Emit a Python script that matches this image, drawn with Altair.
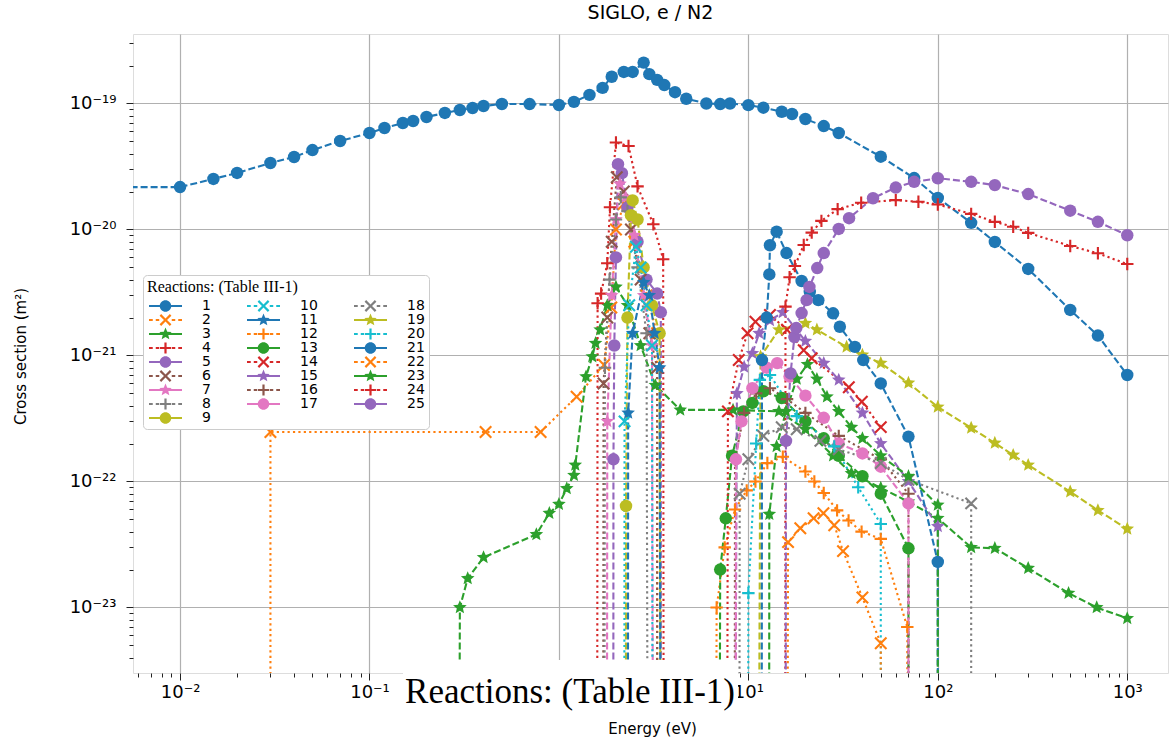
import math
import altair as alt
import pandas as pd

# ---------------- data (energy in eV, cross section in m^2; 0 = vanishing) -------------
E1 = [0.001, 0.01, 0.015, 0.02, 0.03, 0.04, 0.05, 0.07, 0.1, 0.12, 0.15, 0.17, 0.2, 0.25, 0.3, 0.35, 0.4, 0.5, 0.7,
      1.0, 1.2, 1.45, 1.7, 1.9, 2.2, 2.45, 2.8, 3.0, 3.3, 3.6, 4.1, 4.7, 6.0, 7.1, 8.0,
      10, 12, 15, 17, 20, 25, 30, 50, 75, 100, 150, 200, 300, 500, 700, 1000]
S1 = [2.17e-20, 2.17e-20, 2.52e-20, 2.81e-20, 3.37e-20, 3.76e-20, 4.27e-20, 5.04e-20, 5.83e-20, 6.39e-20, 7.0e-20,
      7.26e-20, 7.81e-20, 8.41e-20, 8.88e-20, 9.21e-20, 9.55e-20, 9.91e-20, 9.9e-20,
      9.73e-20, 1.03e-19, 1.17e-19, 1.33e-19, 1.63e-19, 1.78e-19, 1.78e-19, 2.11e-19, 1.71e-19, 1.54e-19, 1.40e-19,
      1.23e-19, 1.09e-19, 1.0e-19, 9.9e-20, 1.0e-19,
      9.7e-20, 9.26e-20, 8.6e-20, 8.25e-20, 7.53e-20, 6.62e-20, 5.83e-20, 3.78e-20, 2.56e-20, 1.78e-20, 1.13e-20,
      7.96e-21, 4.86e-21, 2.3e-21, 1.44e-21, 7.0e-22]
E2 = [0.03, 0.03, 0.41, 0.8, 1.24, 1.73, 1.89, 2.0, 2.2, 2.5, 2.9, 3.3, 3.3]
S2 = [0, 2.47e-22, 2.47e-22, 2.47e-22, 4.7e-22, 8.4e-22, 2.4e-21, 1.0e-20, 1.6e-20, 8e-21, 3e-21, 1.5e-21, 0]
E3 = [0.29, 0.3, 0.33, 0.4, 0.76, 0.89, 1.0, 1.1, 1.2, 1.22, 1.39, 1.5, 1.56, 1.65, 1.8, 2.0, 2.3, 2.7, 3.23, 4.37,
      8.3, 14.5, 20, 28, 35, 50, 70, 100, 150, 200, 300, 490, 690, 1000]
S3 = [0, 1.0e-23, 1.7e-23, 2.5e-23, 3.8e-23, 5.6e-23, 6.6e-23, 8.8e-23, 1.12e-22, 1.35e-22, 6.8e-22, 9.8e-22, 1.25e-21,
      1.6e-21, 2.5e-21, 3.5e-21, 2.5e-21, 1.2e-21, 5.8e-22, 3.7e-22, 3.7e-22, 3.6e-22, 2.6e-22, 1.6e-22, 1.16e-22,
      8.9e-23, 6.9e-23, 5.1e-23, 3.0e-23, 2.95e-23, 2.05e-23, 1.3e-23, 1.0e-23, 8.2e-24]
E4 = [1.58, 1.6, 1.67, 1.8, 1.86, 2.0, 2.33, 2.6, 3.15, 3.55, 3.6]
S4 = [0, 2.6e-21, 3.1e-21, 5.4e-21, 1.5e-20, 4.9e-20, 4.6e-20, 2.2e-20, 1.1e-20, 5.8e-21, 0]
E5 = [1.93, 1.94, 1.96, 2.0, 2.05, 2.15, 2.3, 2.6, 2.9, 3.3, 3.45, 3.45]
S5 = [0, 1.5e-22, 1.2e-21, 6e-21, 3.3e-20, 2.8e-20, 1.5e-20, 8e-21, 4e-21, 3.1e-21, 2.2e-21, 0]
E6 = [1.7, 1.72, 1.8, 1.9, 2.02, 2.2, 2.4, 2.7, 3.0, 3.3, 3.3]
S6 = [0, 6e-22, 2e-21, 8e-21, 2.6e-20, 2.0e-20, 1.0e-20, 4e-21, 1.5e-21, 8e-22, 0]
E7 = [1.78, 1.8, 1.9, 2.0, 2.1, 2.25, 2.5, 2.8, 3.1, 3.2]
S7 = [0, 3e-22, 3e-21, 1.2e-20, 2.3e-20, 1.8e-20, 9e-21, 3e-21, 1.2e-21, 0]
E8 = [1.72, 1.75, 1.85, 2.0, 2.12, 2.3, 2.6, 2.9, 3.0]
S8 = [0, 8e-22, 4e-21, 1.2e-20, 1.8e-20, 1.4e-20, 5e-21, 1.5e-21, 0]
E9 = [2.25, 2.26, 2.3, 2.4, 2.45, 2.6, 2.8, 3.1, 3.4, 3.5]
S9 = [0, 6.4e-23, 2e-21, 1.3e-20, 1.7e-20, 1.2e-20, 5e-21, 2.5e-21, 1.5e-21, 0]
E10 = [2.2, 2.22, 2.35, 2.55, 2.7, 2.9, 3.1, 3.15]
S10 = [0, 3e-22, 2.5e-21, 7.3e-21, 5e-21, 2.5e-21, 1.2e-21, 0]
E11 = [2.3, 2.32, 2.45, 2.8, 3.0, 3.2, 3.4, 3.5]
S11 = [0, 3.5e-22, 1.5e-21, 3.8e-21, 3e-21, 1.5e-21, 8e-22, 0]
E12 = [6.6, 6.8, 7.5, 8.5, 9.8, 10.9, 12.6, 15.2, 20, 22.3, 25, 29.4, 33.8, 39.6, 50, 69, 69]
S12 = [0, 1.0e-23, 3.0e-23, 6.0e-23, 8.5e-23, 1.0e-22, 1.4e-22, 1.57e-22, 1.2e-22, 1.0e-22, 8.1e-23, 5.9e-23,
       4.9e-23, 4.0e-23, 3.5e-23, 7.0e-24, 0]
E13 = [6.9, 7.1, 7.6, 8.2, 9.4, 10.5, 12, 15, 20, 25, 30, 40, 50, 70, 70]
S13 = [0, 2.0e-23, 5.1e-23, 1.6e-22, 3.6e-22, 4.2e-22, 5.2e-22, 4.6e-22, 3.0e-22, 2.2e-22, 1.6e-22, 1.1e-22, 8e-23,
       2.95e-23, 0]
E14 = [7.6, 7.8, 8.9, 9.9, 10.9, 13, 16, 19.6, 21.6, 33.9, 39.7, 50]
S14 = [0, 3.6e-22, 9.2e-22, 1.5e-21, 1.85e-21, 2.1e-21, 1.6e-21, 1.1e-21, 9.5e-22, 5.6e-22, 4.3e-22, 2.7e-22]
E15 = [8.2, 8.7, 9.5, 10.5, 11.4, 13, 15.2, 20, 25, 30, 40, 50, 70, 100, 100]
S15 = [0, 5.0e-22, 8.1e-22, 1.04e-21, 1.5e-21, 1.9e-21, 2.2e-21, 1.3e-21, 8.7e-22, 6.4e-22, 3.5e-22, 2.0e-22,
       1.0e-22, 4.4e-23, 0]
E16 = [8.4, 8.5, 9.5, 11, 13, 16, 20, 30, 50, 70, 70]
S16 = [0, 1.5e-22, 3.5e-22, 5e-22, 5.5e-22, 4.5e-22, 3.5e-22, 2.3e-22, 1.5e-22, 8e-23, 0]
E17 = [8.5, 8.6, 9.2, 10.5, 12.5, 14.2, 16.5, 20, 25, 30, 40, 50, 70, 70]
S17 = [0, 1.5e-22, 3e-22, 5.5e-22, 8e-22, 8.7e-22, 6.8e-22, 4.8e-22, 3.2e-22, 2.0e-22, 1.67e-22, 1.31e-22,
       6.7e-23, 0]
E18 = [8.9, 9.0, 10, 12, 15, 18, 24, 30, 50, 70, 150, 150]
S18 = [0, 8e-23, 1.5e-22, 2.3e-22, 2.7e-22, 2.6e-22, 2.1e-22, 1.8e-22, 1.4e-22, 1.03e-22, 6.7e-23, 0]
E19 = [11.0, 11.6, 14.5, 20, 23, 33, 40, 50, 70, 100, 150, 200, 250, 300, 500, 700, 1000]
S19 = [0, 9.8e-22, 1.6e-21, 1.8e-21, 1.6e-21, 1.17e-21, 1.01e-21, 8.7e-22, 6.05e-22, 3.9e-22, 2.66e-22, 2.02e-22,
       1.62e-22, 1.35e-22, 8.3e-23, 5.9e-23, 4.2e-23]
E20 = [9.9, 10.0, 11.0, 11.5, 13, 18, 28.4, 38, 50, 50]
S20 = [0, 1.3e-23, 2e-22, 6.4e-22, 7e-22, 3.3e-22, 1.9e-22, 9e-23, 4.6e-23, 0]
E21 = [11.7, 11.8, 12.5, 12.9, 13.0, 14.1, 15.9, 19.1, 21.1, 23.4, 28, 30.4, 36.5, 40.4, 50, 70, 100, 100]
S21 = [0, 9.2e-22, 2.0e-21, 4.4e-21, 7.5e-21, 9.6e-21, 6.5e-21, 3.9e-21, 3.2e-21, 2.75e-21, 2.16e-21, 1.69e-21,
       1.17e-21, 9.2e-22, 6.0e-22, 2.27e-22, 2.3e-23, 0]
E22 = [15.8, 16.2, 18.8, 22.1, 24.9, 28.4, 31.6, 40, 50, 50]
S22 = [0, 3.3e-23, 4.25e-23, 5.1e-23, 5.6e-23, 4.5e-23, 2.8e-23, 1.2e-23, 5.2e-24, 0]
E23 = [12.8, 12.9, 14.1, 15.8, 18, 20.5, 23, 26, 30, 35, 40, 50, 70, 100, 100]
S23 = [0, 5.5e-23, 1.9e-22, 3.6e-22, 6.5e-22, 8.5e-22, 6.5e-22, 4.7e-22, 3.6e-22, 2.7e-22, 2.2e-22, 1.6e-22,
       1.1e-22, 6.5e-23, 0]
E24 = [15.6, 15.7, 16.5, 17.6, 19.6, 21.6, 24.3, 29.6, 39.4, 60, 79, 100, 150, 200, 250, 300, 500, 700, 1000]
S24 = [0, 2.44e-21, 4.18e-21, 5.13e-21, 7.53e-21, 9.44e-21, 1.17e-20, 1.45e-20, 1.63e-20, 1.71e-20, 1.66e-20,
       1.58e-20, 1.33e-20, 1.15e-20, 1.05e-20, 9.4e-21, 7.4e-21, 6.47e-21, 5.32e-21]
E25 = [15.6, 15.8, 16.7, 17.5, 17.9, 19.1, 20.3, 21, 23.1, 25, 30, 34, 45.5, 60, 75, 100, 150, 200, 300, 500,
       700, 1000]
S25 = [0, 2.1e-22, 7.2e-22, 1.4e-21, 1.65e-21, 2.17e-21, 2.75e-21, 3.5e-21, 4.94e-21, 6.5e-21, 1.01e-20, 1.23e-20,
       1.77e-20, 2.15e-20, 2.39e-20, 2.55e-20, 2.39e-20, 2.25e-20, 1.91e-20, 1.41e-20, 1.15e-20, 9.0e-21]

ENERGIES = [E1, E2, E3, E4, E5, E6, E7, E8, E9, E10, E11, E12, E13, E14, E15, E16, E17, E18, E19, E20, E21, E22,
            E23, E24, E25]
SIGMAS = [S1, S2, S3, S4, S5, S6, S7, S8, S9, S10, S11, S12, S13, S14, S15, S16, S17, S18, S19, S20, S21, S22,
          S23, S24, S25]
SERIES = [str(i) for i in range(1, 26)]

# the 10^0 label is hidden under the pasted caption box in the reference
X_TICKS = [0.01, 0.1, 10, 100, 1000]
X_TICK_LABELS = ["10⁻²", "10⁻¹", "10¹", "10²", "10³"]
Y_TICKS = [1e-23, 1e-22, 1e-21, 1e-20, 1e-19]
Y_TICK_LABELS = ["10⁻²³", "10⁻²²", "10⁻²¹", "10⁻²⁰", "10⁻¹⁹"]
X_DOMAIN = [0.005645, 1641]
Y_DOMAIN = [3.02e-24, 3.56e-19]

TITLE = "SIGLO, e / N2"
X_TITLE = "Energy (eV)"
Y_TITLE = "Cross section (m²)"
LEGEND_TITLE = "Reactions: (Table III-1)"
OVERLAY_TEXT = "Reactions: (Table III-1)"

TAB10 = ["#1f77b4", "#ff7f0e", "#2ca02c", "#d62728", "#9467bd", "#8c564b", "#e377c2", "#7f7f7f", "#bcbd22",
         "#17becf"]
COLORS = [TAB10[i % 10] for i in range(25)]
MARKERS = [["o", "x", "*", "+"][i % 4] for i in range(25)]
STYLES = ["dashed" if i % 2 == 0 else "dotted" for i in range(25)]

# ---------------- table ----------------
rows = []
for k, (name, es, ss) in enumerate(zip(SERIES, ENERGIES, SIGMAS)):
    assert len(es) == len(ss), name
    for j, (e, s) in enumerate(zip(es, ss)):
        rows.append({"series": name, "E": e, "sigma": s if s > 0 else 1e-30, "zero": s <= 0,
                     "idx": j, "style": STYLES[k]})
df = pd.DataFrame(rows)


# ---------------- marker geometry ----------------
def poly(pts):
    return "M" + "L".join(f"{x:.3f},{y:.3f}" for x, y in pts) + "Z"


def rect(x0, x1, h):
    return poly([(x0, -h), (x1, -h), (x1, h), (x0, h)])


def circle(cx, r):
    return (f"M{cx + r:.3f},0A{r:.3f},{r:.3f} 0 1,1 {cx - r:.3f},0"
            f"A{r:.3f},{r:.3f} 0 1,1 {cx + r:.3f},0Z")


def star(cx, R, ratio=0.45):
    pts = []
    for k in range(10):
        a = math.radians(-90 + 36 * k)
        rad = R if k % 2 == 0 else R * ratio
        pts.append((cx + rad * math.cos(a), rad * math.sin(a)))
    return poly(pts)


def cross(cx, L, w, rot=0.0):
    base = [(-w, -L), (w, -L), (w, -w), (L, -w), (L, w), (w, w), (w, L), (-w, L), (-w, w), (-L, w), (-L, -w),
            (-w, -w)]
    c, s = math.cos(rot), math.sin(rot)
    return poly([(cx + x * c - y * s, x * s + y * c) for x, y in base])


PLOT_SHAPE = {"o": "circle", "x": cross(0, 1.3, 0.17, math.pi / 4), "*": star(0, 1.15), "+": cross(0, 1.0, 0.17)}
LEG_MARK = {"o": circle(2.3, 1.15), "x": cross(2.3, 1.45, 0.22, math.pi / 4), "*": star(2.3, 1.3),
            "+": cross(2.3, 1.1, 0.22)}
LEG_LINE = {"dashed": rect(-1, 5.6, 0.2),
            "dotted": rect(-1, -0.25, 0.2) + rect(0.35, 1.05, 0.2) + rect(3.55, 4.25, 0.2) + rect(4.85, 5.6, 0.2)}

plot_shapes = [PLOT_SHAPE[m] for m in MARKERS]
leg_shapes_all = [LEG_LINE[s] + LEG_MARK[m] for s, m in zip(STYLES, MARKERS)]

# Legend layout: 3 columns reading 1-9 | 10-17 | 18-25.  Vega places entry i at grid
# position rank((i % nrows) * ncols + i // nrows) (row-major), so invert that mapping.
NCOL = 3
n = len(SERIES)
nrows = math.ceil(n / NCOL)
col_sizes = [9, 8, 8]
wanted_at = {}
start = 0
for c, size in enumerate(col_sizes):
    for r in range(size):
        wanted_at[r * NCOL + c] = start + r
    start += size
keys = [(i % nrows) * NCOL + i // nrows for i in range(n)]
rank = {k: p for p, k in enumerate(sorted(keys))}
order = [wanted_at[rank[keys[i]]] for i in range(n)]
LEG_DOMAIN = [SERIES[j] for j in order]
LEG_COLORS = [COLORS[j] for j in order]
LEG_SHAPES = [leg_shapes_all[j] for j in order]


# ---------------- axes ----------------
def major(v="datum.value"):
    return f"abs(log({v})/LN10 - round(log({v})/LN10)) < 0.01"


def label_expr(ticks, labels):
    parts = " : ".join(f"round(log(datum.value)/LN10) == {round(math.log10(t))} ? '{l}'"
                       for t, l in zip(ticks, labels))
    return f"{major()} ? ({parts} : '') : ''"


x_all = [m * 10.0 ** k for k in range(-3, 4) for m in range(1, 10)]
x_all = [v for v in x_all if X_DOMAIN[0] <= v <= X_DOMAIN[1]]
y_all = [m * 10.0 ** k for k in range(-24, -18) for m in range(1, 10)]
y_all = [v for v in y_all if Y_DOMAIN[0] <= v <= Y_DOMAIN[1]]

common_axis = dict(
    grid=True, gridColor="#b0b0b0", gridWidth=1.2,
    gridOpacity={"condition": {"test": major(), "value": 1}, "value": 0},
    tickSize={"condition": {"test": major(), "value": 7}, "value": 4},
    tickColor="#222222", tickWidth=1, domain=False,
    labelFont="DejaVu Sans", labelFontSize=18, labelColor="black",
    labelOverlap=False, labelFlush=False,
    titleFont="DejaVu Sans", titleFontSize=15, titleFontWeight="normal", titleColor="black",
)
x_axis = alt.Axis(values=x_all, labelExpr=label_expr(X_TICKS, X_TICK_LABELS), labelPadding=3,
                  titleX=519, titleY=55, titleBaseline="middle", titleAlign="center", **common_axis)
y_axis = alt.Axis(values=y_all, labelExpr=label_expr(Y_TICKS, Y_TICK_LABELS), labelPadding=10,
                  titleX=-113, titleY=322, titleBaseline="middle", titleAlign="center", titleAngle=-90,
                  **common_axis)

x_enc = alt.X("E:Q", scale=alt.Scale(type="log", domain=X_DOMAIN, nice=False), axis=x_axis, title=X_TITLE)
y_enc = alt.Y("sigma:Q", scale=alt.Scale(type="log", domain=Y_DOMAIN, nice=False), axis=y_axis, title=Y_TITLE)

base = alt.Chart(df)

lines = base.mark_line(clip=True, strokeWidth=2.1).encode(
    x=x_enc, y=y_enc,
    color=alt.Color("series:N", scale=alt.Scale(domain=SERIES, range=COLORS), legend=None),
    strokeDash=alt.StrokeDash("style:N", scale=alt.Scale(domain=["dashed", "dotted"], range=[[7, 3], [2.2, 3.2]]),
                              legend=None),
    detail="series:N",
    order=alt.Order("idx:Q"),
)

points = base.transform_filter("!datum.zero").mark_point(filled=True, clip=True, size=155, opacity=1).encode(
    x=x_enc, y=y_enc,
    color=alt.Color("series:N", scale=alt.Scale(domain=SERIES, range=COLORS), legend=None),
    shape=alt.Shape("series:N", scale=alt.Scale(domain=SERIES, range=plot_shapes), legend=None),
)

leg = alt.Legend(
    title=LEGEND_TITLE, orient="none", legendX=10, legendY=241, columns=NCOL, columnPadding=34, rowPadding=0,
    symbolSize=100, symbolStrokeWidth=0, symbolOpacity=1, labelOffset=41,
    labelFont="DejaVu Sans", labelFontSize=14, labelColor="black",
    titleFont="Liberation Serif", titleFontSize=16, titleFontWeight="normal", titleColor="black", titlePadding=4,
    padding=4, fillColor="white", strokeColor="#cccccc", cornerRadius=4,
)
legend_layer = base.transform_filter("false").mark_point(filled=True).encode(
    x=x_enc, y=y_enc,
    color=alt.Color("series:N", scale=alt.Scale(domain=LEG_DOMAIN, range=LEG_COLORS), legend=leg),
    shape=alt.Shape("series:N", scale=alt.Scale(domain=LEG_DOMAIN, range=LEG_SHAPES), legend=leg),
)

note = alt.Chart(pd.DataFrame({"label": [OVERLAY_TEXT]}))
box = note.mark_rect(color="white").encode(x=alt.value(270), x2=alt.value(605), y=alt.value(626),
                                           y2=alt.value(684))
text = note.mark_text(font="Liberation Serif", fontSize=35, align="center", baseline="middle",
                      color="black").encode(x=alt.value(437), y=alt.value(658), text="label:N")

chart = alt.layer(lines, points, legend_layer, box, text).resolve_scale(
    color="independent", shape="independent", strokeDash="independent"
).properties(
    width=1035, height=639,
    title=alt.TitleParams(TITLE, font="DejaVu Sans", fontSize=19, fontWeight="normal", color="black",
                          offset=11, anchor="middle", frame="group"),
    padding={"left": 133, "top": 34, "right": 4, "bottom": 64},
    autosize=alt.AutoSizeParams(type="none"),
).configure_view(stroke="#222222", strokeWidth=1.2).configure(font="DejaVu Sans", background="white")

chart.save("out.html", embed_options={"renderer": "svg", "actions": False})
